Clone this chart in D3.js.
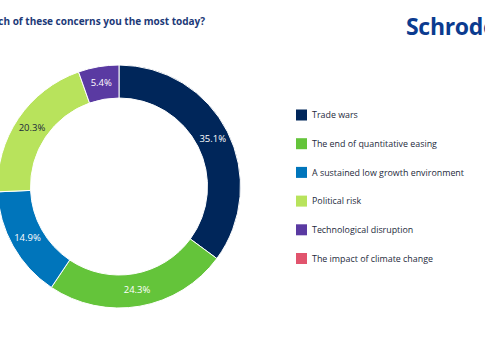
<!DOCTYPE html>
<html><head><meta charset="utf-8">
<script src="https://cdn.jsdelivr.net/npm/d3@7"></script>
<style>
html,body{margin:0;padding:0;background:#fff;overflow:hidden}
svg{display:block;font-family:"Open Sans",sans-serif}
</style></head>
<body>
<script>
const categories = ["Trade wars","The end of quantitative easing","A sustained low growth environment","Political risk","Technological disruption","The impact of climate change"];
const values = [35.1, 24.3, 14.9, 20.3, 5.4, 0];
const colors = ["#00265a","#64c43a","#0075bb","#b8e35c","#5a3aa2","#e1546d"];
const labelColors = ["#ffffff","#ffffff","#ffffff","#1b2a3a","#ffffff","#ffffff"];
const title = "Which of these concerns you the most today?";
const brand = "Schroders";

const W = 485, H = 360;
const svg = d3.select("body").append("svg").attr("width", W).attr("height", H);

svg.append("text").attr("x", 205).attr("y", 25).attr("text-anchor", "end")
  .attr("font-size", 10).attr("font-weight", "bold").attr("fill", "#1d3a78").text(title);
svg.append("text").attr("x", 406).attr("y", 35)
  .attr("font-size", 23).attr("font-weight", "bold").attr("fill", "#0b3b8f").attr("letter-spacing", -0.3).text(brand);

const data = categories.map((c,i)=>({c, v: values[i], col: colors[i], lc: labelColors[i]}));
const pie = d3.pie().sort(null).value(d=>d.v);
const arcs = pie(data);
const outerR = 121.5, innerR = 88.5;
const arc = d3.arc().innerRadius(innerR).outerRadius(outerR);
const g = svg.append("g").attr("transform", "translate(119,186.5)");
g.selectAll("path").data(arcs.filter(a=>a.data.v>0)).join("path")
  .attr("d", arc).attr("fill", d=>d.data.col).attr("stroke", "#fff").attr("stroke-width", 1);
g.selectAll("text").data(arcs.filter(a=>a.data.v>0)).join("text")
  .attr("transform", d=>`translate(${arc.centroid(d)})`)
  .attr("text-anchor", "middle").attr("dy", "0.35em")
  .attr("font-size", 9.5).attr("fill", d=>d.data.lc)
  .text(d=>d.data.v.toFixed(1)+"%");

const y = d3.scalePoint().domain(categories).range([115, 258.5]);
const leg = svg.append("g");
const row = leg.selectAll("g").data(data).join("g")
  .attr("transform", d=>`translate(296,${y(d.c)})`);
row.append("rect").attr("x", 0).attr("y", -5.5).attr("width", 11).attr("height", 11).attr("fill", d=>d.col);
row.append("text").attr("x", 16).attr("dy", "0.35em").attr("font-size", 8.9).attr("fill", "#1e2a3c").text(d=>d.c);
</script>
</body></html>
